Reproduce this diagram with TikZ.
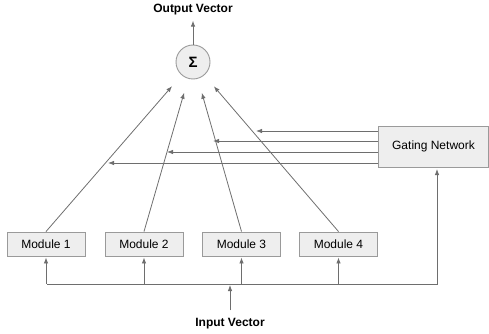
\documentclass[tikz,border=0pt]{standalone}
\usepackage{fontspec}
\setmainfont{Liberation Sans}
\usetikzlibrary{arrows.meta}
\definecolor{boxfill}{HTML}{EEEEEE}
\definecolor{boxline}{HTML}{9A9A9A}
\definecolor{conn}{HTML}{6E6E6E}
\begin{document}
\begin{tikzpicture}[x=1pt,y=1pt,
  box/.style={draw=boxline,fill=boxfill,line width=0.9pt,inner sep=0pt,font=\fontsize{12}{14}\selectfont},
  modbox/.style={box,minimum width=78,minimum height=24},
  lbl/.style={font=\bfseries\fontsize{12}{14}\selectfont,inner sep=1pt},
  conline/.style={draw=conn,line width=0.8pt},
  arr/.style={conline,-{Latex[length=6pt,width=4.5pt]}}]
\useasboundingbox (0,0) rectangle (489,-334);
\node[box,circle,minimum size=34] (sig) at (193,-62) {\bfseries\fontsize{15}{16}\selectfont Σ};
\node[lbl] (out) at (193,-10) {Output Vector};
\node[lbl] (in) at (230,-324) {Input Vector};
\node[modbox] (m1) at (46,-244) {Module 1};
\node[modbox] (m2) at (144,-244) {Module 2};
\node[modbox] (m3) at (241.5,-244) {Module 3};
\node[modbox] (m4) at (338.5,-244) {Module 4};
\node[box,minimum width=110,minimum height=41] (gate) at (433.5,-146.5) {Gating Network};
% output
\draw[arr] (sig.north) -- ([yshift=-4]out.south);
% modules to sigma
\foreach \m in {m1,m2,m3,m4}
  \draw[arr,shorten >=32pt] (\m.north) -- (sig.center);
% gating outputs
\coordinate (t1) at (256,-131);
\coordinate (t2) at (213,-141);
\coordinate (t3) at (167,-152);
\coordinate (t4) at (108,-163);
\foreach \t in {t1,t2,t3,t4}
  \draw[arr] (gate.west |- \t) -- (\t);
% input bus
\coordinate (busL) at (47,-284);
\coordinate (busR) at (437,-284);
\coordinate (gin) at (437,-169);
\coordinate (bin) at (230,-285);
\draw[arr] (busL) -- (busR) -- (gin);
\foreach \m in {m1,m2,m3,m4}
  \draw[arr] (\m.south |- busL) -- ([yshift=-1]\m.south);
\draw[arr] ([yshift=7]in.north) -- (bin);
\end{tikzpicture}
\end{document}
